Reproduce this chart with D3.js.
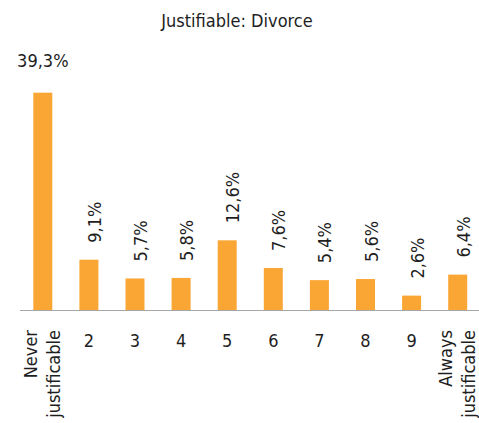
<!DOCTYPE html>
<html>
<head>
<meta charset="utf-8">
<script src="https://cdn.jsdelivr.net/npm/d3@7"></script>
<style>
  body { margin: 0; background: #fff; }
  text { font-family: "DejaVu Sans Condensed", "Liberation Sans Narrow", sans-serif; fill: #1e1e1e; }
</style>
</head>
<body>
<svg class="chart"></svg>
<script>
const width = 479;
const height = 423;
const categories = [["Never", "justificable"], ["2"], ["3"], ["4"], ["5"], ["6"], ["7"], ["8"], ["9"], ["Always", "justificable"]];
const values = [39.3, 9.1, 5.7, 5.8, 12.6, 7.6, 5.4, 5.6, 2.6, 6.4];
const labels = ["39,3%", "9,1%", "5,7%", "5,8%", "12,6%", "7,6%", "5,4%", "5,6%", "2,6%", "6,4%"];

const baseline = 310;
const fontSize = '18px';
const svg = d3.select('.chart')
  .attr('width', width).attr('height', height);

const x = d3.scaleBand()
  .domain(d3.range(values.length))
  .range([19.75, 480.75])
  .paddingInner(0.588)
  .paddingOuter(0.294);
const y = d3.scaleLinear().domain([0, 40]).range([baseline, baseline - 5.53 * 40]);

svg.append('text')
  .attr('x', 237).attr('y', 27)
  .attr('text-anchor', 'middle')
  .style('font-size', fontSize)
  .text('Justifiable: Divorce');

svg.selectAll('.bar')
  .data(values)
  .enter()
  .append('rect')
  .attr('class', 'bar')
  .attr('x', (d, i) => x(i))
  .attr('width', x.bandwidth())
  .attr('y', d => y(d))
  .attr('height', d => baseline - y(d))
  .style('fill', '#faa634');

svg.append('line')
  .attr('x1', 20).attr('x2', 479)
  .attr('y1', baseline + 0.5).attr('y2', baseline + 0.5)
  .style('stroke', '#a6a6a6')
  .style('stroke-width', 1.2);

// value labels: first one flat, the rest turned
svg.selectAll('.val')
  .data(values)
  .enter()
  .append('text')
  .attr('class', 'val')
  .style('font-size', fontSize)
  .attr('transform', (d, i) => {
    const cx = x(i) + x.bandwidth() / 2;
    if (i === 0) return `translate(${cx},${y(d) - 26})`;
    return `translate(${cx + 12},${y(d) - 17}) rotate(-90)`;
  })
  .attr('text-anchor', (d, i) => i === 0 ? 'middle' : 'start')
  .text((d, i) => labels[i]);

// category labels
const cat = svg.selectAll('.cat')
  .data(categories)
  .enter()
  .append('g')
  .attr('class', 'cat')
  .attr('transform', (d, i) => `translate(${x(i) + x.bandwidth() / 2},0)`);

cat.each(function (d) {
  const g = d3.select(this);
  if (d.length === 1) {
    g.append('text')
      .attr('y', 347)
      .attr('text-anchor', 'middle')
      .style('font-size', fontSize)
      .text(d[0]);
  } else {
    d.forEach((line, j) => {
      g.append('text')
        .attr('transform', `translate(${j === 0 ? -6 : 17},330) rotate(-90)`)
        .attr('text-anchor', 'end')
        .style('font-size', fontSize)
        .text(line);
    });
  }
});
</script>
</body>
</html>
